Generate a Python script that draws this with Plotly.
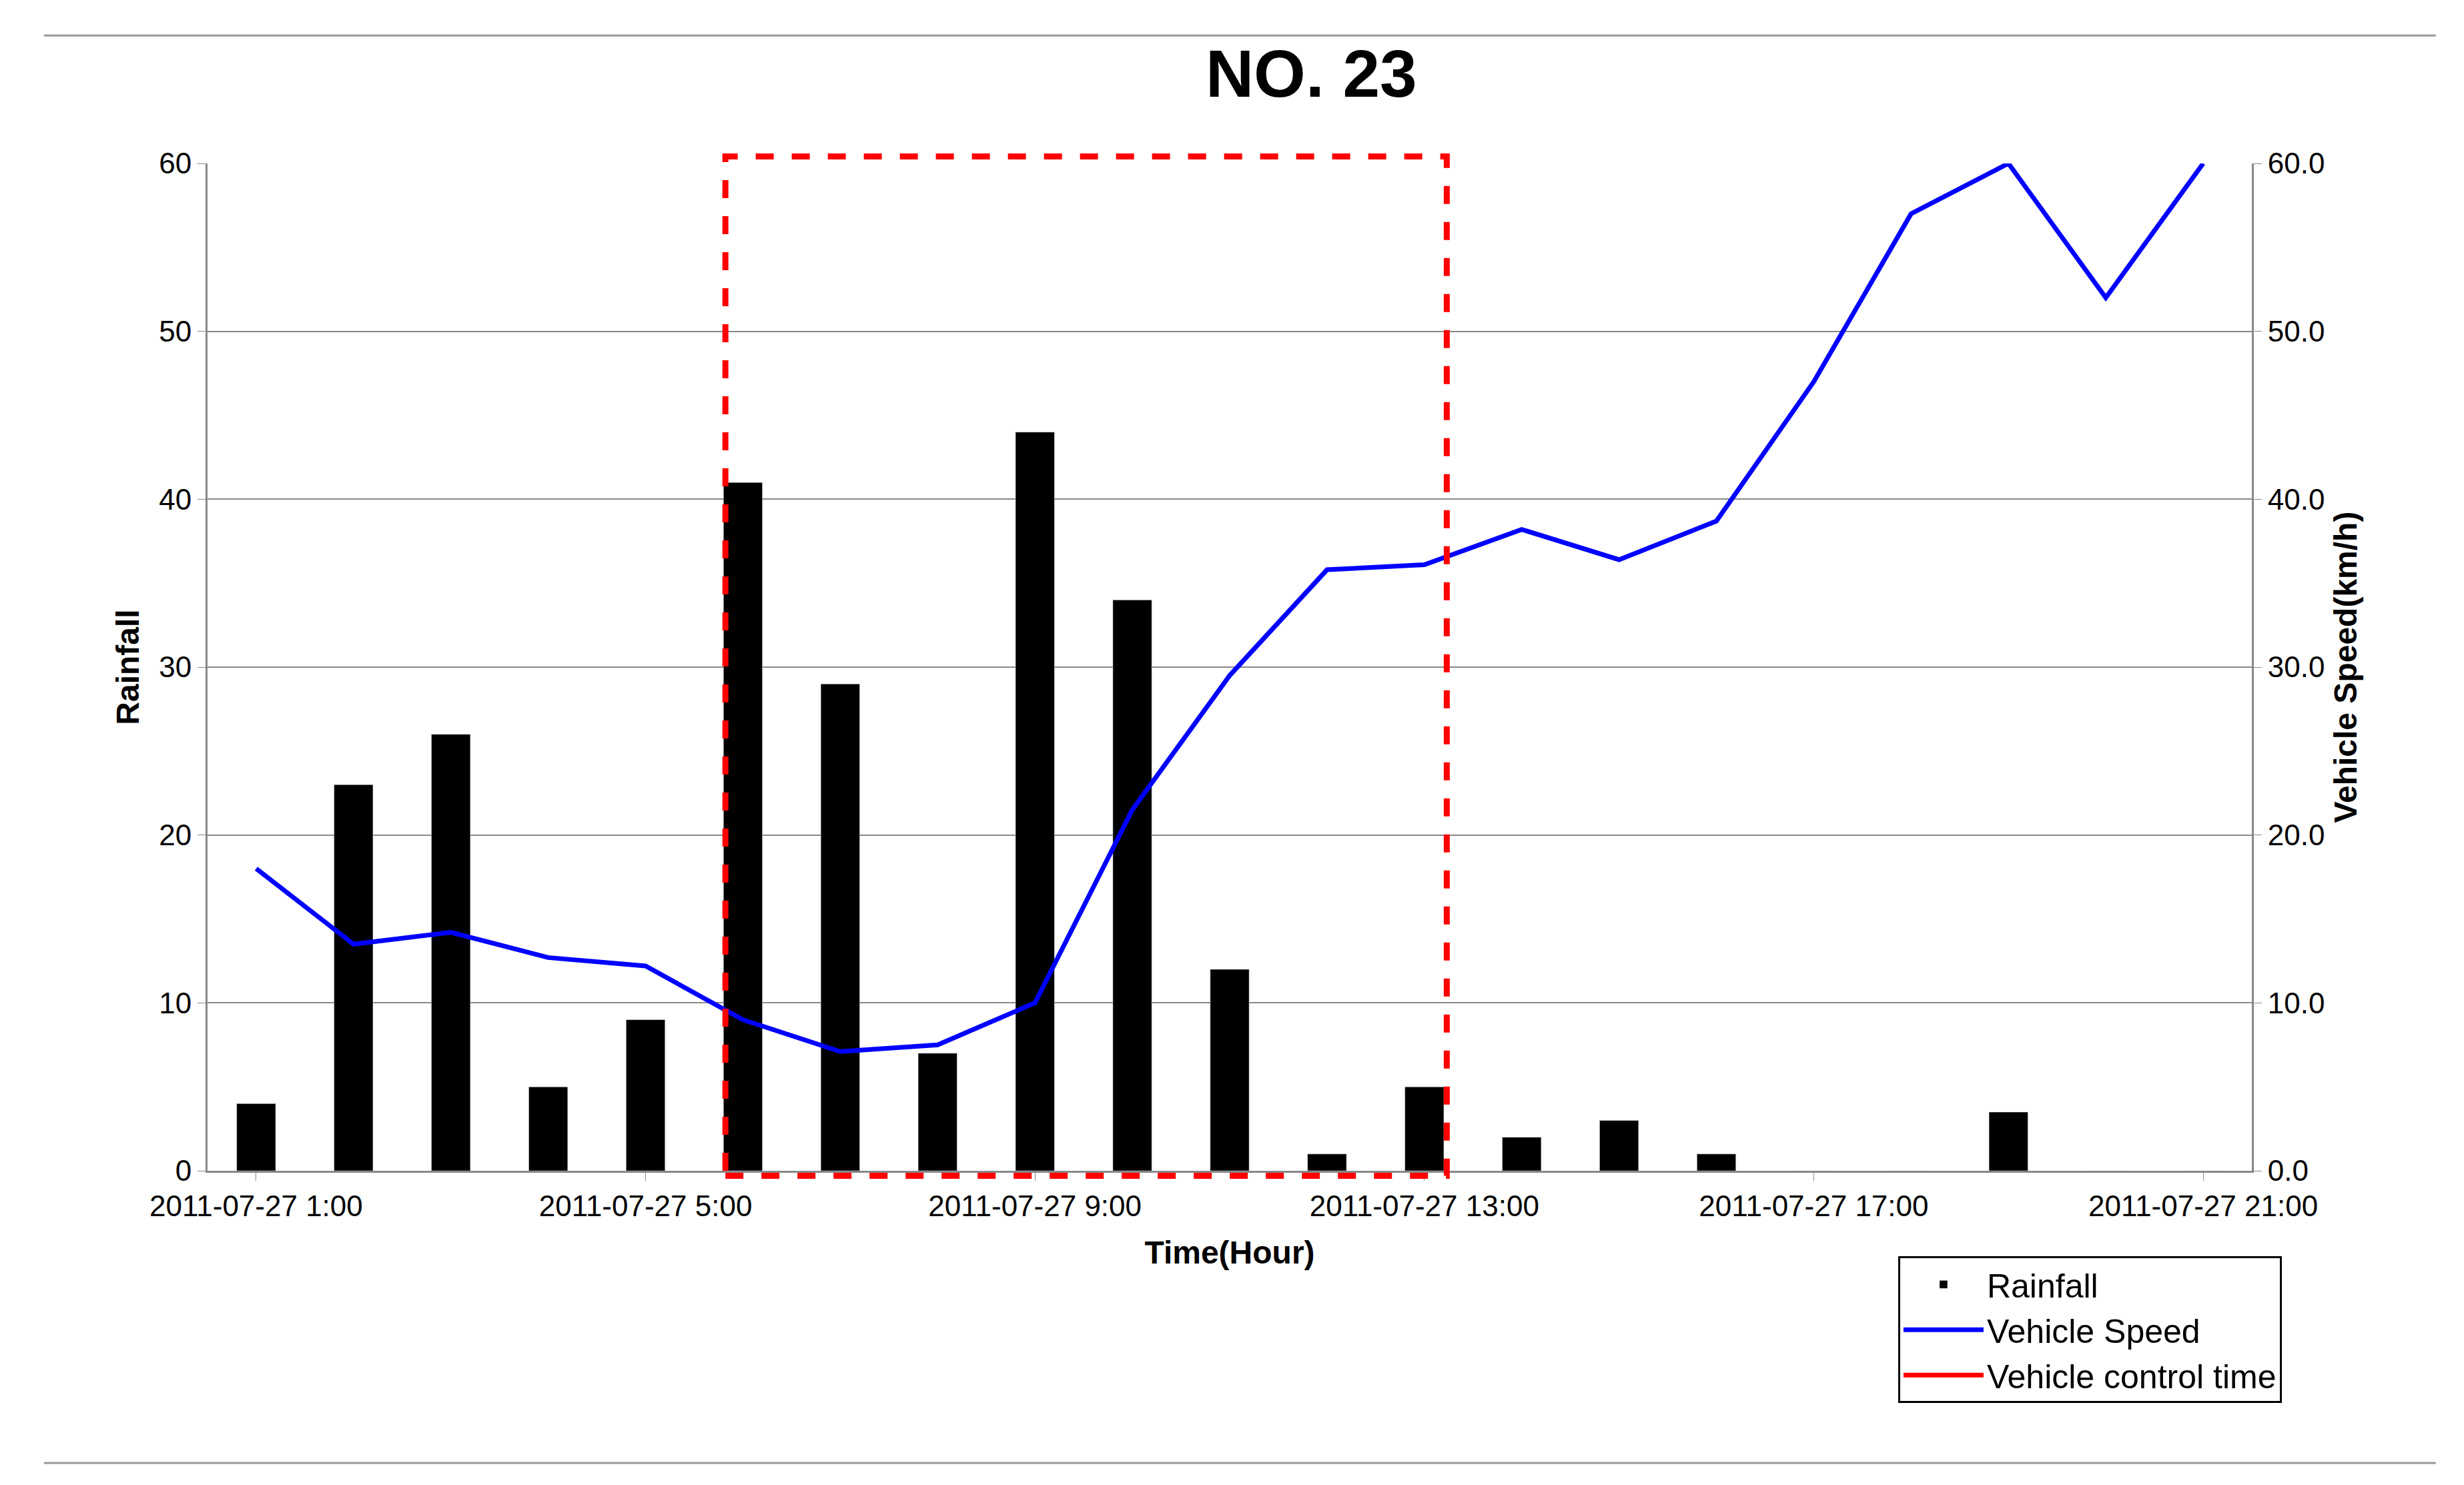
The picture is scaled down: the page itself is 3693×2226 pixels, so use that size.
import plotly.graph_objects as go

hours = [f"2011-07-27 {h}:00" for h in range(1, 22)]
rainfall = [4, 23, 26, 5, 9, 41, 29, 7, 44, 34, 12, 1, 5, 2, 3, 1, 0, 0, 3.5, 0, 0]
speed = [18, 13.5, 14.2, 12.7, 12.2, 9, 7.1, 7.5, 10, 21.5, 29.5, 35.8, 36.1, 38.2, 36.4, 38.7, 47, 57, 60, 52, 60]
tick_labels = [hours[i] for i in range(0, 21, 4)]
control_start, control_end = 4.82, 12.23

F = "Liberation Sans, Arial, sans-serif"
fig = go.Figure()
fig.add_trace(go.Bar(x=hours, y=rainfall, name="Rainfall", marker_color="black", width=0.4))
fig.add_trace(go.Scatter(x=hours, y=speed, name="Vehicle Speed", yaxis="y2", mode="lines",
                         line=dict(color="#0000ff", width=7)))
fig.add_trace(go.Scatter(x=[None], y=[None], name="Vehicle control time", mode="lines",
                         line=dict(color="#ff0000", width=7)))
fig.add_shape(type="rect", xref="x", yref="paper", x0=control_start, x1=control_end, y0=-0.005, y1=1.007,
              line=dict(color="#ff0000", width=9, dash="dash"), layer="above")
fig.add_shape(type="line", xref="paper", yref="paper", x0=-0.08, x1=1.09, y0=1.127, y1=1.127,
              line=dict(color="#999", width=3))
fig.add_shape(type="line", xref="paper", yref="paper", x0=-0.08, x1=1.09, y0=-0.29, y1=-0.29,
              line=dict(color="#999", width=3))
fig.update_layout(
    width=3693, height=2226, plot_bgcolor="white", paper_bgcolor="white",
    margin=dict(l=303, r=326, t=237, b=479),
    font=dict(family=F, size=40, color="black"),
    title=dict(text="<b>NO. 23</b>", x=0.53, xanchor="center", y=0.97, font=dict(size=100)),
    showlegend=True,
    legend=dict(x=0.827, y=-0.085, xanchor="left", yanchor="top", bordercolor="black", borderwidth=3,
                font=dict(size=50), bgcolor="white", itemwidth=120, tracegroupgap=10),
    xaxis=dict(type="category", tickvals=tick_labels, ticktext=tick_labels, ticks="outside",
               ticklen=12, showline=True, linecolor="#888", linewidth=3, tickcolor="#888",
               title=dict(text="<b>Time(Hour)</b>", font=dict(size=48), standoff=30),
               tickfont=dict(size=44)),
    yaxis=dict(range=[0, 60], dtick=10, showgrid=True, gridcolor="#888", gridwidth=2,
               showline=True, linecolor="#888", linewidth=3, ticks="outside", tickcolor="#888",
               ticklen=12, title=dict(text="<b>Rainfall</b>", font=dict(size=48)), tickfont=dict(size=44)),
    yaxis2=dict(range=[0, 60], dtick=10, overlaying="y", side="right", tickformat=".1f",
                showgrid=False, showline=True, linecolor="#888", linewidth=3, ticks="outside",
                tickcolor="#888", ticklen=12,
                title=dict(text="<b>Vehicle Speed(km/h)</b>", font=dict(size=48)), tickfont=dict(size=44)),
)
fig.write_html("out.html")
